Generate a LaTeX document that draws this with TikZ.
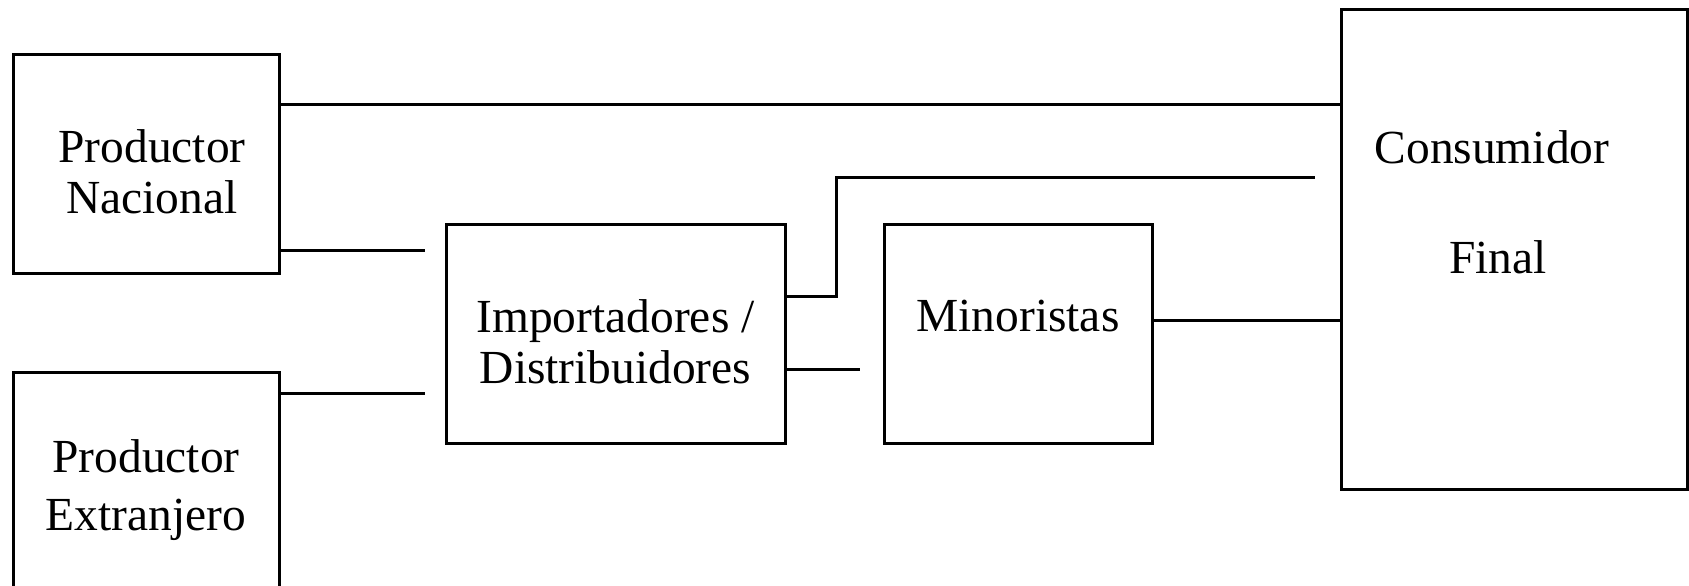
\documentclass[tikz,border=0pt]{standalone}
\usepackage{fontspec}
\setmainfont{Liberation Serif}
\usetikzlibrary{positioning}

\begin{document}
\begin{tikzpicture}[
    node distance=0.96cm,
    box/.style={rectangle, draw=black, line width=0.03cm, inner sep=0pt, align=center, font=\fontsize{13.5pt}{14.5pt}\selectfont},
    link/.style={line width=0.03cm}
  ]
  \useasboundingbox (0,0) rectangle (16.89,5.85);
  \clip (0,0) rectangle (16.89,5.85);

  \node[box, minimum width=2.66cm, minimum height=2.19cm] (nacional) at (1.46,4.215) {\rule{0pt}{0.5cm}\hspace*{0.12cm}Productor\\\hspace*{0.12cm}Nacional};
  \node[box, minimum width=2.66cm, minimum height=2.19cm, below=of nacional] (extranjero) {\rule{0pt}{0.5cm}Productor\\[0.7mm]Extranjero};
  \node[box, minimum width=3.39cm, minimum height=2.19cm] (importadores) at (6.155,2.515) {\rule{0pt}{0.49cm}Importadores /\\Distribuidores};
  \node[box, minimum width=2.68cm, minimum height=2.19cm, text depth=0.36cm, right=of importadores] (minoristas) {Minoristas};
  \node[box, minimum width=3.46cm, minimum height=4.80cm, text depth=0.94cm] (consumidor) at (15.14,3.36) {Consumidor\hspace*{0.44cm}\\[5.9mm]Final\hspace*{0.32cm}};

  \draw[link] ([yshift=5.9mm]nacional.east) -- ([yshift=5.9mm]nacional.east -| consumidor.west);
  \draw[link] ([yshift=-8.65mm]nacional.east) -- ([xshift=-2mm,yshift=-8.65mm]nacional.east -| importadores.west);
  \draw[link] (extranjero.east |- 0,1.92) -- ([xshift=-2mm]importadores.west |- 0,1.92);
  \draw[link] ([yshift=3.7mm]importadores.east) -- ++(0.5,0) |- ([xshift=-2.45mm]consumidor.west |- 0,4.08);
  \draw[link] ([yshift=-3.6mm]importadores.east) -- ([xshift=-2.3mm,yshift=-3.6mm]minoristas.west);
  \draw[link] ([yshift=1.35mm]minoristas.east) -- ([yshift=1.35mm]minoristas.east -| consumidor.west);
\end{tikzpicture}
\end{document}
